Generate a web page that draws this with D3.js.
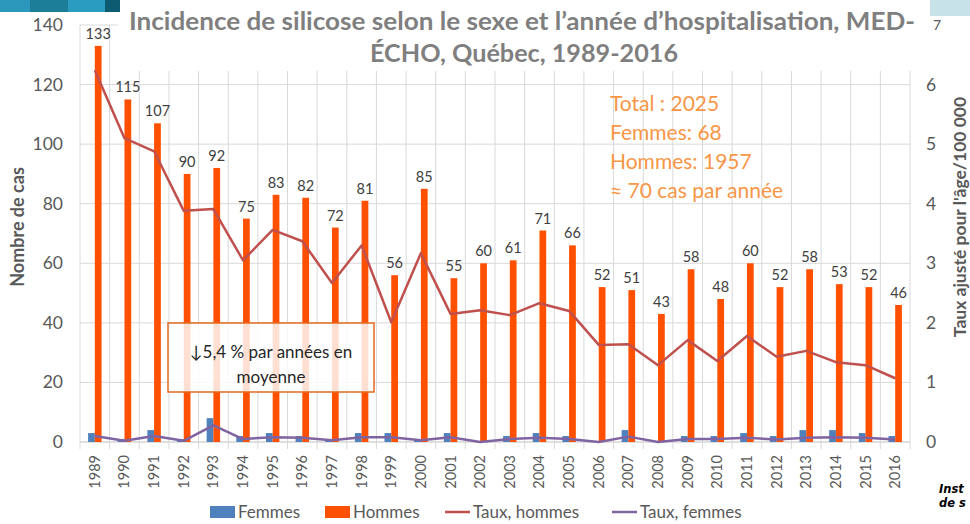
<!DOCTYPE html>
<html><head><meta charset="utf-8">
<script src="https://cdn.jsdelivr.net/npm/d3@7"></script>
<style>body{margin:0;background:#fff}svg{display:block}text{font-family:Lato,"Open Sans",sans-serif}</style>
</head><body><svg id="c" width="970" height="524"></svg>
<script>
const years = ["1989","1990","1991","1992","1993","1994","1995","1996","1997","1998","1999","2000","2001","2002","2003","2004","2005","2006","2007","2008","2009","2010","2011","2012","2013","2014","2015","2016"];
const femmes = [3,1,4,1,8,2,3,2,1,3,3,1,3,0,2,3,2,0,4,0,2,2,3,2,4,4,3,2];
const hommes = [133,115,107,90,92,75,83,82,72,81,56,85,55,60,61,71,66,52,51,43,58,48,60,52,58,53,52,46];
const tauxHommes = [6.24,5.1,4.88,3.88,3.91,3.05,3.56,3.37,2.67,3.3,2.01,3.17,2.15,2.21,2.13,2.33,2.2,1.63,1.64,1.29,1.71,1.36,1.78,1.43,1.53,1.34,1.29,1.07];
const tauxFemmes = [0.1,0.02,0.1,0.02,0.28,0.05,0.08,0.07,0.03,0.08,0.08,0.03,0.08,0,0.05,0.07,0.05,0,0.09,0,0.05,0.05,0.07,0.04,0.07,0.08,0.07,0.04];
const leftTicks = [0,20,40,60,80,100,120,140];
const rightTicks = [0,1,2,3,4,5,6,7];
const titleLines = ["Incidence de silicose selon le sexe et l’année d’hospitalisation, MED-","ÉCHO, Québec, 1989-2016"];
const infoLines = ["Total : 2025","Femmes: 68","Hommes: 1957","≈ 70 cas par année"];
const noteLines = ["↓5,4 % par années en","moyenne"];
const legendItems = [{k:"Femmes",t:"rect",c:"#4f81bd"},{k:"Hommes",t:"rect",c:"#ff5000"},{k:"Taux, hommes",t:"line",c:"#c0504d"},{k:"Taux, femmes",t:"line",c:"#8064a2"}];
const logoLines = ["Inst","de s"];

const svg = d3.select("#c");
const L=80, R=910, T=25, B=442;
const x0 = d3.scaleBand().domain(years).range([L,R]).padding(0);
const x1 = d3.scaleBand().domain(["F","H"]).range([0,x0.bandwidth()]).paddingInner(0).paddingOuter(1.2);
const y = d3.scaleLinear().domain([0,140]).range([B,T]);
const y2 = d3.scaleLinear().domain([0,7]).range([B,T]);
const grid = "#d9d9d9";

// horizontal gridlines
svg.append("g").selectAll("line").data(leftTicks).join("line")
  .attr("x1",L).attr("x2",R).attr("y1",d=>y(d)).attr("y2",d=>y(d))
  .attr("stroke",d=>d===0?"#bfbfbf":grid).attr("stroke-width",1);
// vertical gridlines at category boundaries
const bounds = years.map(d=>x0(d)).concat([R]);
svg.append("g").selectAll("line").data(bounds).join("line")
  .attr("x1",d=>d).attr("x2",d=>d).attr("y1",T).attr("y2",B+7)
  .attr("stroke",grid).attr("stroke-width",1);

// bars
svg.append("g").selectAll("rect").data(years).join("rect")
  .attr("x",(d)=>x0(d)+x1("F")).attr("width",x1.bandwidth())
  .attr("y",(d,i)=>y(femmes[i])).attr("height",(d,i)=>B-y(femmes[i]))
  .attr("fill","#4f81bd");
svg.append("g").selectAll("rect").data(years).join("rect")
  .attr("x",(d)=>x0(d)+x1("H")).attr("width",x1.bandwidth())
  .attr("y",(d,i)=>y(hommes[i])).attr("height",(d,i)=>B-y(hommes[i]))
  .attr("fill","#ff5000");

// lines
const cx = d=>x0(d)+x0.bandwidth()/2;
const lineH = d3.line().x((d,i)=>cx(years[i])).y(d=>y2(d));
svg.append("path").attr("d",lineH(tauxHommes)).attr("fill","none").attr("stroke","#c0504d").attr("stroke-width",2.5).attr("stroke-linejoin","round");
svg.append("path").attr("d",lineH(tauxFemmes)).attr("fill","none").attr("stroke","#8064a2").attr("stroke-width",2.5).attr("stroke-linejoin","round");

// bar labels
svg.append("g").selectAll("text").data(years).join("text")
  .attr("x",d=>x0(d)+x1("H")+x1.bandwidth()/2).attr("y",(d,i)=>y(hommes[i])-7)
  .attr("text-anchor","middle").attr("font-size",14.5).attr("fill","#404040")
  .text((d,i)=>hommes[i]);

// left axis labels
svg.append("g").selectAll("text").data(leftTicks).join("text")
  .attr("x",63).attr("y",d=>y(d)+6).attr("text-anchor","end")
  .attr("font-size",17.5).attr("fill","#595959").text(d=>d);
// right axis labels (0..6), 7 drawn later above title background
svg.append("g").selectAll("text").data(rightTicks.filter(d=>d<7)).join("text")
  .attr("x",926).attr("y",d=>y2(d)+6).attr("text-anchor","start")
  .attr("font-size",17.5).attr("fill","#595959").text(d=>d);
// x labels
svg.append("g").selectAll("text").data(years).join("text")
  .attr("transform",d=>`translate(${cx(d)+5},455) rotate(-90)`)
  .attr("text-anchor","end").attr("font-size",14.5).attr("fill","#595959").text(d=>d);

// axis titles
svg.append("text").attr("transform","translate(24,227) rotate(-90)").attr("text-anchor","middle")
  .attr("font-size",18).attr("font-weight","bold").attr("fill","#595959").text("Nombre de cas");
svg.append("text").attr("transform","translate(966,217) rotate(-90)").attr("text-anchor","middle")
  .attr("font-size",17.5).attr("font-weight","bold").attr("fill","#595959").text("Taux ajusté pour l'âge/100 000");

// title background + title
svg.append("rect").attr("x",118).attr("y",0).attr("width",793).attr("height",71).attr("fill","#fff");
svg.append("text").attr("x",522).attr("y",30).attr("text-anchor","middle").attr("font-size",25).attr("font-weight","bold")
  .attr("fill","#7f7f7f").attr("textLength",786).attr("lengthAdjust","spacingAndGlyphs").text(titleLines[0]);
svg.append("text").attr("x",524).attr("y",62).attr("text-anchor","middle").attr("font-size",25).attr("font-weight","bold")
  .attr("fill","#7f7f7f").attr("textLength",308).attr("lengthAdjust","spacingAndGlyphs").text(titleLines[1]);
// right axis top tick "7"
svg.append("text").attr("x",933).attr("y",30).attr("font-size",14).attr("fill","#595959").text(rightTicks[7]);

// decorative strips
const strip = [[0,30,"#2b98bb"],[30,38,"#1d7e9a"],[68,37,"#2a9cc0"],[105,15,"#0d5b71"]];
svg.append("g").selectAll("rect").data(strip).join("rect")
  .attr("x",d=>d[0]).attr("y",0).attr("width",d=>d[1]).attr("height",12).attr("fill",d=>d[2]);
svg.append("rect").attr("x",930).attr("y",0).attr("width",40).attr("height",16).attr("fill","#c8e3e8");

// info text
svg.append("g").selectAll("text").data(infoLines).join("text")
  .attr("x",610).attr("y",(d,i)=>111+i*29).attr("font-size",21).attr("fill","#f79646").text(d=>d);

// annotation box
svg.append("rect").attr("x",168).attr("y",323).attr("width",206).attr("height",69)
  .attr("fill","#fff").attr("fill-opacity",0.82).attr("stroke","#e2691e").attr("stroke-width",1.5);
svg.append("g").selectAll("text").data(noteLines).join("text")
  .attr("x",271).attr("y",(d,i)=>358+i*25).attr("text-anchor","middle").attr("font-size",17).attr("fill","#262626").text(d=>d);

// legend
const lx = [210,325,445,612];
const lg = svg.append("g").selectAll("g").data(legendItems).join("g").attr("transform",(d,i)=>`translate(${lx[i]},512)`);
lg.filter(d=>d.t==="rect").append("rect").attr("x",0).attr("y",-6).attr("width",25).attr("height",12).attr("fill",d=>d.c);
lg.filter(d=>d.t==="line").append("line").attr("x1",0).attr("x2",25).attr("y1",0).attr("y2",0).attr("stroke",d=>d.c).attr("stroke-width",2.5);
lg.append("text").attr("x",28).attr("y",6).attr("font-size",17).attr("fill","#595959").text(d=>d.k);

// logo fragment
svg.append("g").selectAll("text").data(logoLines).join("text")
  .attr("x",939).attr("y",(d,i)=>493+i*14).attr("font-size",11.5).attr("font-weight","bold").attr("font-style","italic")
  .style("font-family","'DejaVu Sans',sans-serif").attr("fill","#000").text(d=>d);
</script></body></html>
